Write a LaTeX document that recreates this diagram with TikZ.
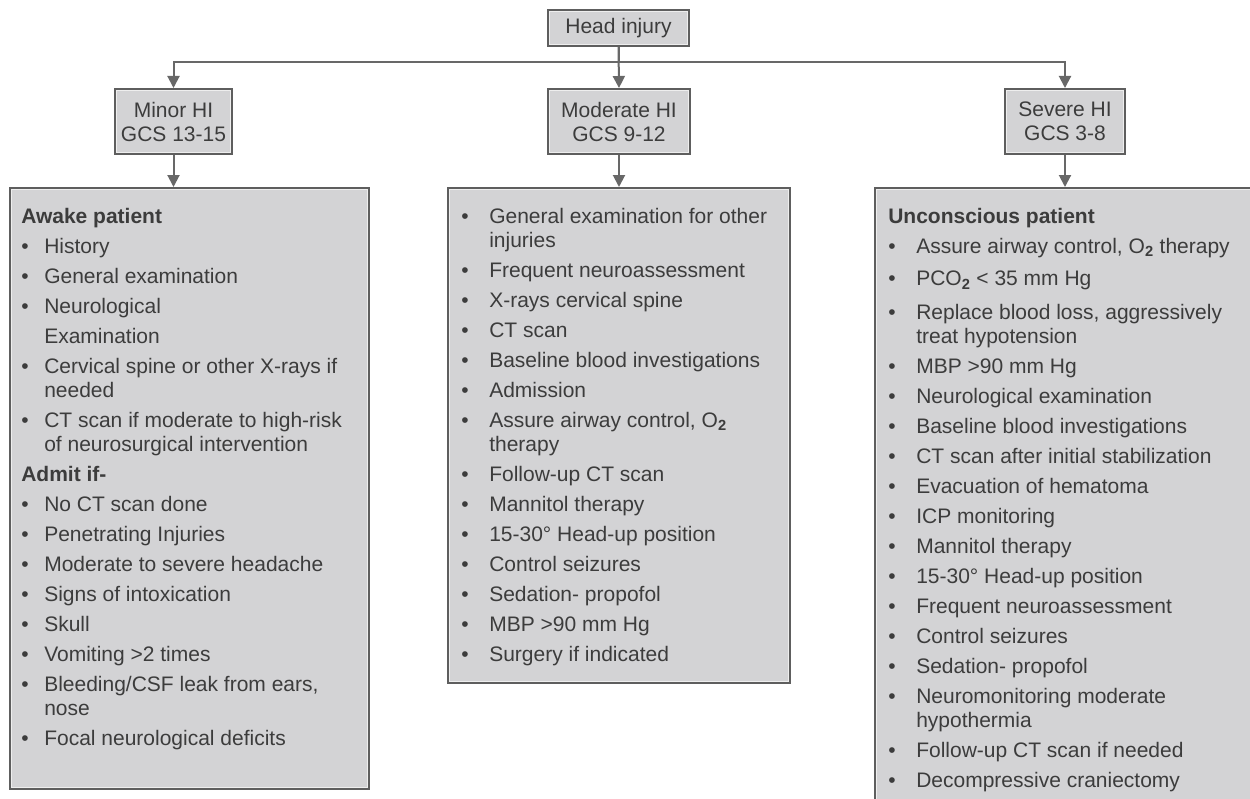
\documentclass[tikz,border=0pt]{standalone}
\usepackage{fontspec}
\setmainfont{Liberation Sans}
\usetikzlibrary{arrows.meta}

\definecolor{boxfill}{HTML}{D3D3D5}
\definecolor{boxedge}{HTML}{5E5E5E}
\definecolor{boxlight}{HTML}{EEEEEE}
\definecolor{inkgray}{HTML}{3C3C3C}
\definecolor{linkgray}{HTML}{686868}

% bullet lists inside the big boxes
\newlength{\bulwidth}
\newcommand{\bul}{\makebox[\bulwidth][l]{\textbullet}}
\newcommand{\ind}{\hspace*{\bulwidth}}
\newcommand{\two}{\textsubscript{\textbf{2}}}
\newcommand{\stepgap}{4.5pt}

\tikzset{
  box/.style={draw=boxedge, line width=1.5pt, fill=boxfill, text=inkgray, inner sep=0pt,
    path picture={\draw[boxlight, line width=3pt] (path picture bounding box.south west) rectangle (path picture bounding box.north east);}},
  gcsbox/.style={box, align=center, minimum height=48.75pt},
  list/.style={text=inkgray, align=left, inner sep=0pt, anchor=north west,
    execute at begin node={\setlength{\bulwidth}{#1}}},
  link/.style={draw=linkgray, line width=1.5pt, -{Triangle[width=9pt,length=9pt]}},
}

\begin{document}
\begin{tikzpicture}[x=0.75pt, y=-0.75pt, every node/.style={font=\fontsize{15.75}{18}\selectfont}]
  \path[use as bounding box, fill=white] (0,0) rectangle (1250,799);

  % top level and the three grades
  \node[box, align=center, minimum width=105.75pt, minimum height=27pt] (head) at (618.5,28) {Head injury};
  \node[gcsbox, minimum width=87.75pt] (minor) at (173.5,121.5) {Minor HI\\GCS 13-15};
  \node[gcsbox, minimum width=106.5pt] (moderate) at (619,121.5) {Moderate HI\\GCS 9-12};
  \node[gcsbox, minimum width=90pt] (severe) at (1065,121.5) {Severe HI\\GCS 3-8};
  \coordinate (bar) at (618.5,62);

  % management boxes
  \node[box, minimum width=269.25pt, minimum height=450.75pt] (awake) at (189.5,488.5) {};
  \node[box, minimum width=256.5pt, minimum height=371.25pt] (admit) at (619,435.5) {};
  \node[box, minimum width=296.25pt, minimum height=474pt] (unconscious) at (1072.5,504) {};

  \node[list=17.25pt] (minorlist) at (21,206) {\strut\textbf{Awake patient}\\[\stepgap]
    \bul History\\[\stepgap]
    \bul General examination\\[\stepgap]
    \bul Neurological\\[\stepgap]
    \ind Examination\\[\stepgap]
    \bul Cervical spine or other X-rays if\\
    \ind needed\\[\stepgap]
    \bul CT scan if moderate to high-risk\\
    \ind of neurosurgical intervention\\[\stepgap]
    \textbf{Admit if-}\\[\stepgap]
    \bul No CT scan done\\[\stepgap]
    \bul Penetrating Injuries\\[\stepgap]
    \bul Moderate to severe headache\\[\stepgap]
    \bul Signs of intoxication\\[\stepgap]
    \bul Skull\\[\stepgap]
    \bul Vomiting >2 times\\[\stepgap]
    \bul Bleeding/CSF leak from ears,\\
    \ind nose\\[\stepgap]
    \bul Focal neurological deficits};

  \node[list=21pt] (moderatelist) at (461,206) {\strut\bul General examination for other\\
    \ind injuries\\[\stepgap]
    \bul Frequent neuroassessment\\[\stepgap]
    \bul X-rays cervical spine\\[\stepgap]
    \bul CT scan\\[\stepgap]
    \bul Baseline blood investigations\\[\stepgap]
    \bul Admission\\[\stepgap]
    \bul Assure airway control, O\two\\
    \ind therapy\\[\stepgap]
    \bul Follow-up CT scan\\[\stepgap]
    \bul Mannitol therapy\\[\stepgap]
    \bul 15-30° Head-up position\\[\stepgap]
    \bul Control seizures\\[\stepgap]
    \bul Sedation- propofol\\[\stepgap]
    \bul MBP >90 mm Hg\\[\stepgap]
    \bul Surgery if indicated};

  \node[list=21pt] (severelist) at (888,206) {\strut\textbf{Unconscious patient}\\[\stepgap]
    \bul Assure airway control, O\two{} therapy\\[6.5pt]
    \bul PCO\two{} < 35 mm Hg\\[7pt]
    \bul Replace blood loss, aggressively\\
    \ind treat hypotension\\[\stepgap]
    \bul MBP >90 mm Hg\\[\stepgap]
    \bul Neurological examination\\[\stepgap]
    \bul Baseline blood investigations\\[\stepgap]
    \bul CT scan after initial stabilization\\[\stepgap]
    \bul Evacuation of hematoma\\[\stepgap]
    \bul ICP monitoring\\[\stepgap]
    \bul Mannitol therapy\\[\stepgap]
    \bul 15-30° Head-up position\\[\stepgap]
    \bul Frequent neuroassessment\\[\stepgap]
    \bul Control seizures\\[\stepgap]
    \bul Sedation- propofol\\[\stepgap]
    \bul Neuromonitoring moderate\\
    \ind hypothermia\\[\stepgap]
    \bul Follow-up CT scan if needed\\[\stepgap]
    \bul Decompressive craniectomy};

  % connectors
  \draw[link] (head.south) -- (bar) -| (minor.north);
  \draw[link] (head.south) -- (moderate.north);
  \draw[link] (bar) -| (severe.north);
  \draw[link] (minor.south) -- (minor.south |- awake.north);
  \draw[link] (moderate.south) -- (moderate.south |- admit.north);
  \draw[link] (severe.south) -- (severe.south |- unconscious.north);
\end{tikzpicture}
\end{document}
